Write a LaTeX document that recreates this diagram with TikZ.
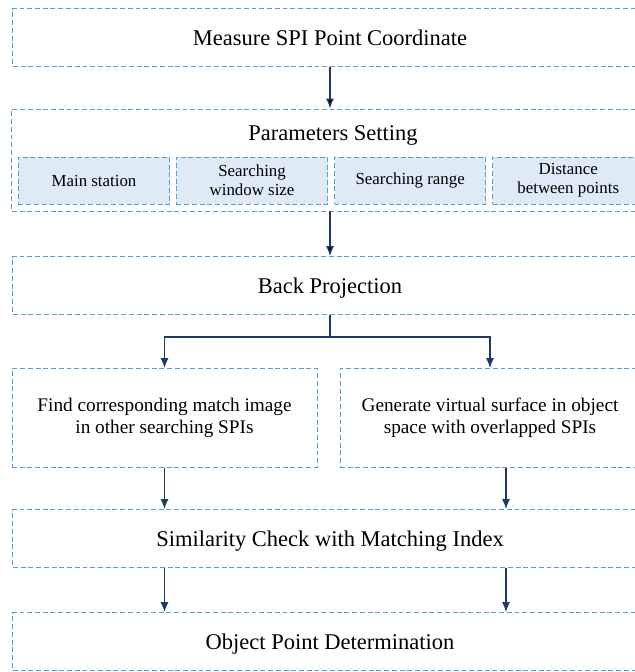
\documentclass[tikz,border=0pt]{standalone}
\usepackage{fontspec}
\setmainfont{Liberation Serif}
\usetikzlibrary{positioning}
\usetikzlibrary{arrows.meta}

\definecolor{dashblue}{RGB}{91,155,213}
\definecolor{paramfill}{RGB}{222,235,247}
\definecolor{flownavy}{RGB}{31,56,100}

\begin{document}
\begin{tikzpicture}[x=0.025cm, y=-0.025cm,
			dashbox/.style={draw=dashblue, dash pattern=on 3.5pt off 2pt,
							line width=0.6pt, inner sep=0pt},
			stepbox/.style={dashbox, minimum width=15.85cm, minimum height=1.45cm,
							text height=1.1em, text depth=0pt,
							font=\fontsize{16}{19}\selectfont},
			parambox/.style={dashbox, fill=paramfill, minimum width=3.78cm,
							minimum height=1.175cm, align=center,
							font=\fontsize{12}{13.5}\selectfont},
			halfbox/.style={dashbox, minimum height=2.475cm, align=center,
							font=\fontsize{13.7}{15.6}\selectfont},
			flow/.style={-{Latex[length=2.5mm,width=2mm]}, draw=flownavy, line width=0.9pt}]
			\useasboundingbox (0,0) rectangle (635,672);
			\clip (0,0) rectangle (635,672);
			% main steps
			\node [stepbox] (measure) at (330,37.5) {Measure SPI Point Coordinate};
			\node [dashbox, minimum width=15.9cm, minimum height=2.55cm] (params) at (330,160) {};
			\node [font=\fontsize{16}{19}\selectfont, text height=1.1em, text depth=0pt]
				(paramtitle) at (333,133) {Parameters Setting};
			\node [parambox] (station) at (94,180.5) {Main station};
			\node [parambox, right=0.15cm of station] (window) {Searching\\window size};
			\node [parambox, right=0.15cm of window] (range) {Searching range};
			\node [parambox, right=0.15cm of range] (distance) {Distance\\between points};
			\node [stepbox] (backproj) at (330,285.5) {Back Projection};
			\node [halfbox, minimum width=7.625cm] (findmatch) at (164.5,418)
				{Find corresponding match image\\in other searching SPIs};
			\node [halfbox, minimum width=7.5cm] (virtual) at (490,418)
				{Generate virtual surface in object\\space with overlapped SPIs};
			\node [stepbox] (similarity) at (330,538.5) {Similarity Check with Matching Index};
			\node [stepbox] (objpoint) at (330,641.5) {Object Point Determination};
			\coordinate (split) at (330,337);
			% connectors
			\path [flow]
				(measure) edge [] (params)
				(params) edge [] (backproj);
			\draw [flow] (backproj.south) -- (split) -| (findmatch.north);
			\draw [flow] (split) -| (virtual.north);
			\draw [flow] (findmatch.south) -- (findmatch.south |- similarity.north);
			\draw [flow] ([xshift=0.4cm]virtual.south) -- ([xshift=0.4cm]virtual.south |- similarity.north);
			\draw [flow] (similarity.south -| findmatch) -- (objpoint.north -| findmatch);
			\draw [flow] ([xshift=0.4cm]similarity.south -| virtual) -- ([xshift=0.4cm]objpoint.north -| virtual);
\end{tikzpicture}
\end{document}
